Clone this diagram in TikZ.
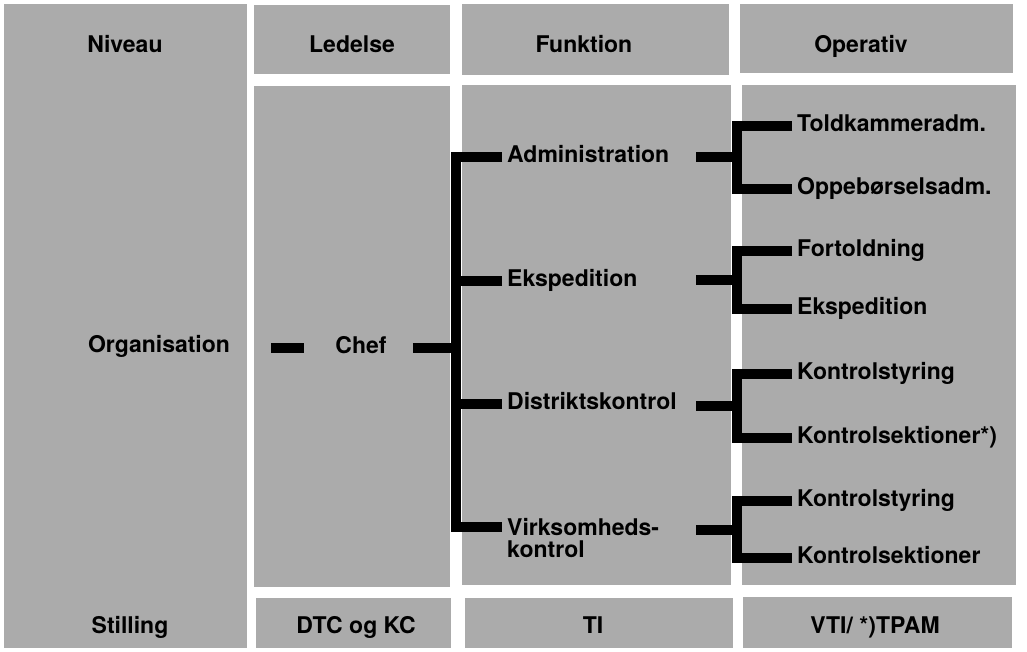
\documentclass[tikz,border=0pt]{standalone}
\usepackage{fontspec}
\setmainfont{TeX Gyre Heros}
\usetikzlibrary{calc}

\begin{document}
\begin{tikzpicture}[x=1pt, y=-1pt,
panel/.style={fill=black!33, draw=none},
txt/.style={inner sep=0pt, text height=16pt, text depth=5pt, font=\fontsize{23}{22}\selectfont\bfseries},
bar/.style={line width=10pt}]

%%%%%% SETTINGS %%%%%%%%%%

\pgfmathtruncatemacro{\spinex}{456}
\pgfmathtruncatemacro{\ribx}{737}

\useasboundingbox (0,0) rectangle (1027,652);

%%%%%% PANELS %%%%%%%%%%

\begin{scope}
\fill[panel] (4,4) rectangle (247,648);
\fill[panel] (254,5) rectangle (450,74);
\fill[panel] (254,86) rectangle (450,587);
\fill[panel] (256,598) rectangle (451,648);
\fill[panel] (462,4) rectangle (729,75);
\fill[panel] (462,85) rectangle (731,585);
\fill[panel] (465,598) rectangle (733,648);
\fill[panel] (740,4) rectangle (1013,73);
\fill[panel] (742,85) rectangle (1016,585);
\fill[panel] (743,597) rectangle (1012,648);
\end{scope}

%%%%%% HEADS AND FEET %%%%%%%%%%

\node[txt] (niveau) at (125,47) {Niveau};
\node[txt] (ledelse) at (352,47) {Ledelse};
\node[txt] (funktion) at (584,47) {Funktion};
\node[txt] (operativ) at (861,47) {Operativ};

\node[txt] (stilling) at (130,628) {Stilling};
\node[txt] (dtc) at (356,628) {DTC og KC};
\node[txt] (ti) at (593,628) {TI};
\node[txt] (vti) at (875,628) {VTI/ *)TPAM};

%%%%%% TREE %%%%%%%%%%

\node[txt] (org) at (159,347) {Organisation};
\node[txt] (chef) at (361,348) {Chef};

\node[txt, anchor=west] (adm) at (507,157) {Administration};
\node[txt, anchor=west] (eksp) at (507,281) {Ekspedition};
\node[txt, anchor=west] (dist) at (507,404) {Distriktskontrol};
\node[txt, text height=, text depth=, anchor=north west, align=left] (virk) at (507,518) {Virksomheds-\\kontrol};

\node[txt, anchor=west] (told) at (797,126) {Toldkammeradm.};
\node[txt, anchor=west] (oppe) at (797,189) {Oppebørselsadm.};
\node[txt, anchor=west] (fort) at (797,251) {Fortoldning};
\node[txt, anchor=west] (ekspo) at (797,309) {Ekspedition};
\node[txt, anchor=west] (styr) at (797,374) {Kontrolstyring};
\node[txt, anchor=west] (sekt) at (797,438) {Kontrolsektioner*)};
\node[txt, anchor=west] (styrb) at (797,501) {Kontrolstyring};
\node[txt, anchor=west] (sektb) at (797,558) {Kontrolsektioner};

\coordinate (spine) at (\spinex,0);
\coordinate (rib) at (\ribx,0);
\coordinate (virkstub) at ([xshift=-5pt, yshift=-9pt]virk.north west);

\begin{scope}[bar]
\draw ([xshift=-64pt]chef.west) -- ([xshift=-31pt]chef.west);
\draw ([xshift=26pt]chef.east) -- (chef -| spine);
\draw ([xshift=-5pt]adm.west) -- (adm.west -| spine) -- (virkstub -| spine) -- (virkstub);
\foreach \n in {eksp, dist}
  \draw ([xshift=-5pt]\n.west) -- (\n.west -| spine);

\foreach \a/\b in {told/oppe, fort/ekspo, styr/sekt, styrb/sektb}{
  \draw ([xshift=-5pt]\a.west) -- (\a.west -| rib) -- (\b.west -| rib) -- ([xshift=-5pt]\b.west);
  \draw ($(\a.west -| rib)!.5!(\b.west -| rib)$) -- ++(-41,0);
}
\end{scope}

\end{tikzpicture}
\end{document}
